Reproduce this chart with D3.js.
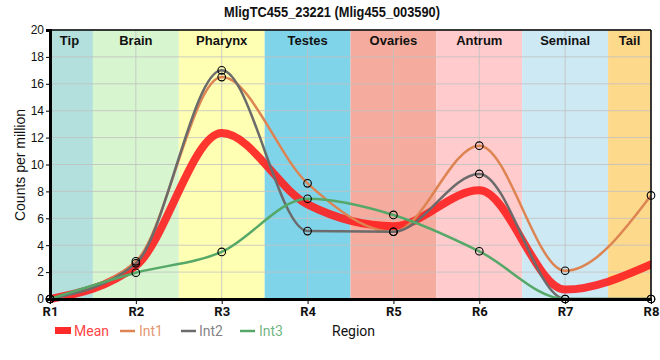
<!DOCTYPE html>
<html><head><meta charset="utf-8">
<script src="https://cdn.jsdelivr.net/npm/d3@7"></script>
<style>body{margin:0;background:#fff}svg{display:block}</style>
</head><body>
<svg id="c" width="660" height="360"></svg>
<script>
const regions = ["R1","R2","R3","R4","R5","R6","R7","R8"];
const int1 = [0, 2.8, 16.5, 8.6, 5.0, 11.4, 2.1, 7.7];
const int2 = [0, 2.65, 17.0, 5.05, 5.0, 9.3, 0, 0];
const int3 = [0, 1.95, 3.5, 7.45, 6.25, 3.55, 0, 0];
const meanVals = regions.map((_, i) => (int1[i] + int2[i] + int3[i]) / 3);
const bandNames = ["Tip","Brain","Pharynx","Testes","Ovaries","Antrum","Seminal","Tail"];
const bandStart = [0, 0.5, 1.5, 2.5, 3.5, 4.5, 5.5, 6.5];
const bandEnd = [0.5, 1.5, 2.5, 3.5, 4.5, 5.5, 6.5, 7];
const bandColors = ["#b3e0dc","#d7f5cf","#ffffb4","#80d4ea","#f5ab9e","#ffcbcd","#cde9f4","#fdd98b"];
const yTicks = [0,2,4,6,8,10,12,14,16,18,20];

const svg = d3.select("#c");
const L = 50, R = 651, T = 30, B = 299;
const x = d3.scaleLinear().domain([0, 7]).range([L, R]);
const y = d3.scaleLinear().domain([0, 20]).range([B, T]);

svg.append("defs").append("clipPath").attr("id","clip")
  .append("rect").attr("x", L).attr("y", T).attr("width", R - L).attr("height", B - T + 4);

// bands
svg.selectAll("rect.band").data(bandNames).enter().append("rect")
  .attr("x", (d,i) => x(bandStart[i])).attr("y", T)
  .attr("width", (d,i) => x(bandEnd[i]) - x(bandStart[i])).attr("height", B - T)
  .attr("fill", (d,i) => bandColors[i]);

// grid
svg.append("g").selectAll("line").data(yTicks).enter().append("line")
  .attr("x1", L).attr("x2", R).attr("y1", d => y(d)).attr("y2", d => y(d))
  .attr("stroke", "#c0c0c0").attr("stroke-opacity", 0.8).attr("stroke-width", 1);
svg.append("g").selectAll("line").data(regions).enter().append("line")
  .attr("x1", (d,i) => x(i)).attr("x2", (d,i) => x(i)).attr("y1", T).attr("y2", B)
  .attr("stroke", "#c0c0c0").attr("stroke-opacity", 0.8).attr("stroke-width", 1);

// band labels
svg.selectAll("text.band").data(bandNames).enter().append("text")
  .attr("x", (d,i) => (x(bandStart[i]) + x(bandEnd[i])) / 2 - (i === 0 ? 2 : 0)).attr("y", 45)
  .attr("text-anchor", "middle").attr("font-family", "Liberation Sans, Arial, sans-serif")
  .attr("font-weight", "bold").attr("font-size", 13).attr("fill", "#111").text(d => d);

// lines
const line = d3.line().x((d,i) => x(i)).y(d => y(d)).curve(d3.curveMonotoneX);
const g = svg.append("g").attr("clip-path", "url(#clip)");
g.append("path").datum(meanVals).attr("d", line).attr("fill","none")
  .attr("stroke","#ff1f1f").attr("stroke-opacity",0.9).attr("stroke-width",8).attr("stroke-linecap","round");
const series = [[int1,"#dd8452"],[int2,"#6b6b6b"],[int3,"#55a868"]];
series.forEach(([vals,col]) => {
  g.append("path").datum(vals).attr("d", line).attr("fill","none")
    .attr("stroke", col).attr("stroke-width", 2.5);
});
// markers
series.forEach(([vals]) => {
  svg.append("g").selectAll("circle").data(vals).enter().append("circle")
    .attr("cx", (d,i) => x(i)).attr("cy", d => y(d)).attr("r", 3.8)
    .attr("fill","none").attr("stroke","#000").attr("stroke-width",1.1);
});

// frame
svg.append("line").attr("x1", L).attr("x2", R).attr("y1", T).attr("y2", T).attr("stroke","#000").attr("stroke-width",1.5);
svg.append("line").attr("x1", R).attr("x2", R).attr("y1", T).attr("y2", B).attr("stroke","#000").attr("stroke-width",1.5);

// axes
const yAxis = svg.append("g").attr("transform", `translate(${L},0)`)
  .call(d3.axisLeft(y).tickValues(yTicks).tickSize(4).tickPadding(2));
yAxis.select(".domain").attr("stroke-width", 3);
yAxis.selectAll("text").attr("font-family","Liberation Sans, Arial, sans-serif").attr("font-size",12).attr("fill","#111");
const xAxis = svg.append("g").attr("transform", `translate(0,${B})`)
  .call(d3.axisBottom(x).tickValues(d3.range(regions.length)).tickFormat(i => regions[i]).tickSize(5).tickPadding(3).tickSizeOuter(0));
xAxis.select(".domain").attr("stroke-width", 3);
xAxis.selectAll("text").attr("font-family","Roboto, sans-serif").attr("font-weight","bold")
  .attr("font-size",13).attr("fill","#111");

// title
svg.append("text").attr("x", 332).attr("y", 17).attr("text-anchor","middle")
  .attr("font-family","Liberation Sans, Arial, sans-serif").attr("font-weight","bold").attr("font-size",14)
  .attr("textLength", 216).attr("lengthAdjust","spacingAndGlyphs").attr("fill","#111")
  .text("MligTC455_23221 (Mlig455_003590)");

// y label
svg.append("text").attr("transform","translate(25,165) rotate(-90)").attr("text-anchor","middle")
  .attr("font-family","Liberation Sans, Arial, sans-serif").attr("font-size",14).attr("fill","#111")
  .text("Counts per million");

// legend
const legend = [
  {name:"Mean", color:"#ff2a2a", sx:55, tx:74, thick:true},
  {name:"Int1", color:"#dd8452", sx:120, tx:139},
  {name:"Int2", color:"#6b6b6b", sx:181, tx:199},
  {name:"Int3", color:"#55a868", sx:240, tx:259}
];
legend.forEach(l => {
  if (l.thick) svg.append("rect").attr("x", l.sx).attr("y", 327).attr("width", 16).attr("height", 7).attr("fill", l.color);
  else svg.append("line").attr("x1", l.sx).attr("x2", l.sx + 15).attr("y1", 331).attr("y2", 331).attr("stroke", l.color).attr("stroke-width", 2.5);
  svg.append("text").attr("x", l.tx).attr("y", 335.5).attr("font-family","Roboto, sans-serif")
    .attr("font-size", 14).attr("fill", l.color).attr("fill-opacity", l.thick ? 0.9 : 0.85).text(l.name);
});
svg.append("text").attr("x", 332).attr("y", 336).attr("font-family","Roboto, sans-serif")
  .attr("font-size", 14).attr("fill","#111").text("Region");
</script>
</body></html>
